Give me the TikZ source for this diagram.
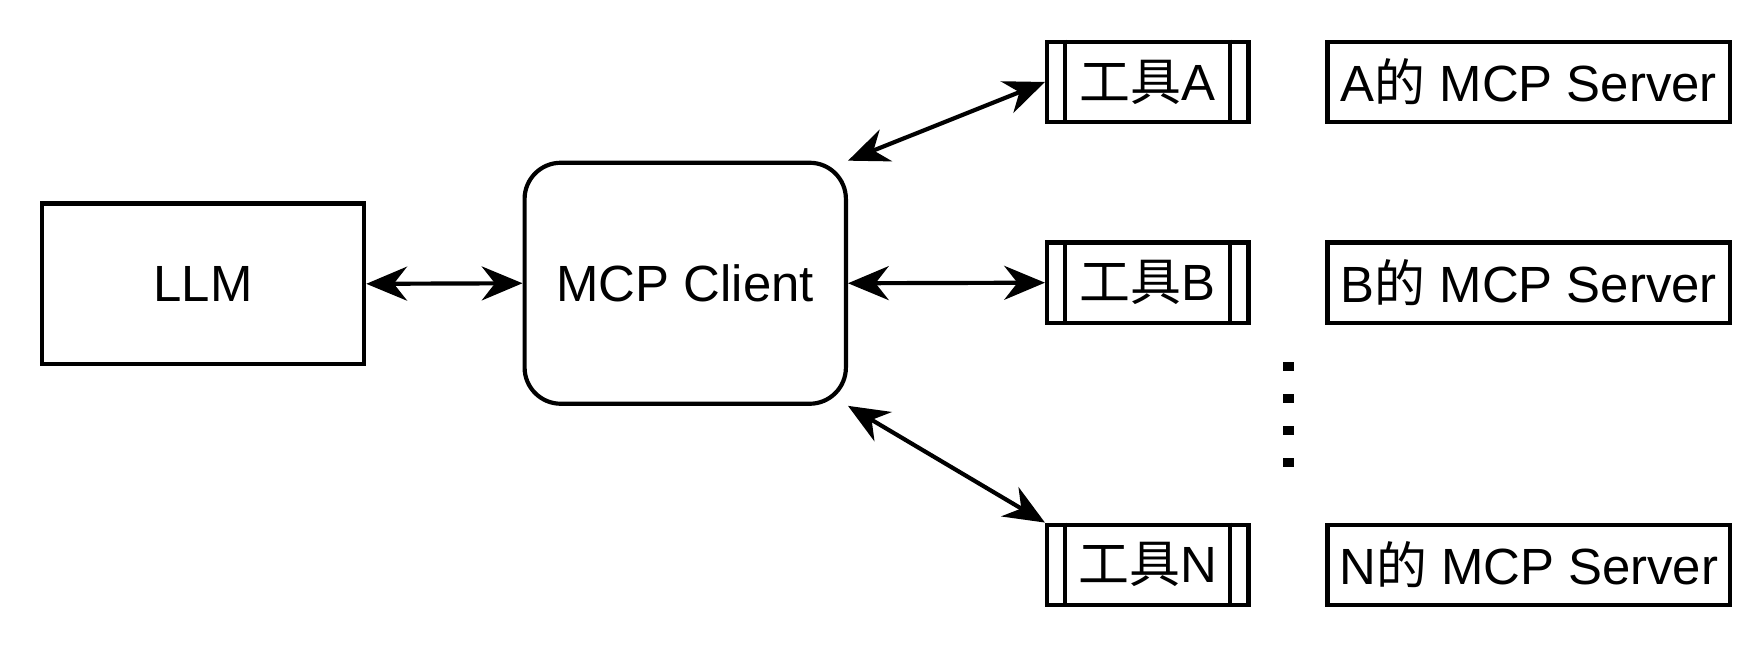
\documentclass[tikz,border=0pt]{standalone}
\usepackage{fontspec}
\setmainfont{Liberation Sans}
\newfontfamily\cjk{Noto Sans CJK SC}
\usetikzlibrary{arrows.meta}

\begin{document}
\begin{tikzpicture}[<->,>={Stealth[length=3.6mm,width=3mm]},line width=1.05pt,x=0.01cm,y=-0.01cm]
    \tikzstyle{box}=[draw, rectangle, sharp corners, inner sep=0pt, font=\fontsize{12.8}{15}\selectfont, -]
    \tikzstyle{tool}=[box, minimum width=1.78cm, minimum height=0.71cm]
    \tikzstyle{server}=[box, minimum width=3.56cm, minimum height=0.71cm]
    \useasboundingbox (0,0) rectangle (1560,573);
	\node [box, minimum width=2.85cm, minimum height=1.42cm] (llm) at (179.5, 251) {LLM};
	\node [box, rounded corners=0.32cm, minimum width=2.84cm, minimum height=2.13cm] (client) at (606, 250.5) {MCP Client};
	\node [tool] (toolA) at (1015, 72.5) {{\cjk 工具}A};
	\node [tool] (toolB) at (1015, 250) {{\cjk 工具}B};
	\node [tool] (toolN) at (1015, 499.5) {{\cjk 工具}N};
	\foreach \t in {toolA, toolB, toolN} {
		\draw [-] ([xshift=0.18cm]\t.north west) -- ([xshift=0.18cm]\t.south west);
		\draw [-] ([xshift=-0.18cm]\t.north east) -- ([xshift=-0.18cm]\t.south east);
	}
	\node [server] (srvA) at (1352, 72.5) {A{\cjk 的} MCP Server};
	\node [server] (srvB) at (1352, 250) {B{\cjk 的} MCP Server};
	\node [server] (srvN) at (1352, 499.5) {N{\cjk 的} MCP Server};
	\draw (llm.east) -- (client.west);
	\draw (client.east) -- (toolB.west);
	\draw (client.north east) -- (toolA.west);
	\draw (client.south east) -- (toolN.north west);
	\foreach \y in {324, 352, 381, 409}
		\fill [-] (1135, \y-4) rectangle (1144, \y+4);
\end{tikzpicture}
\end{document}
